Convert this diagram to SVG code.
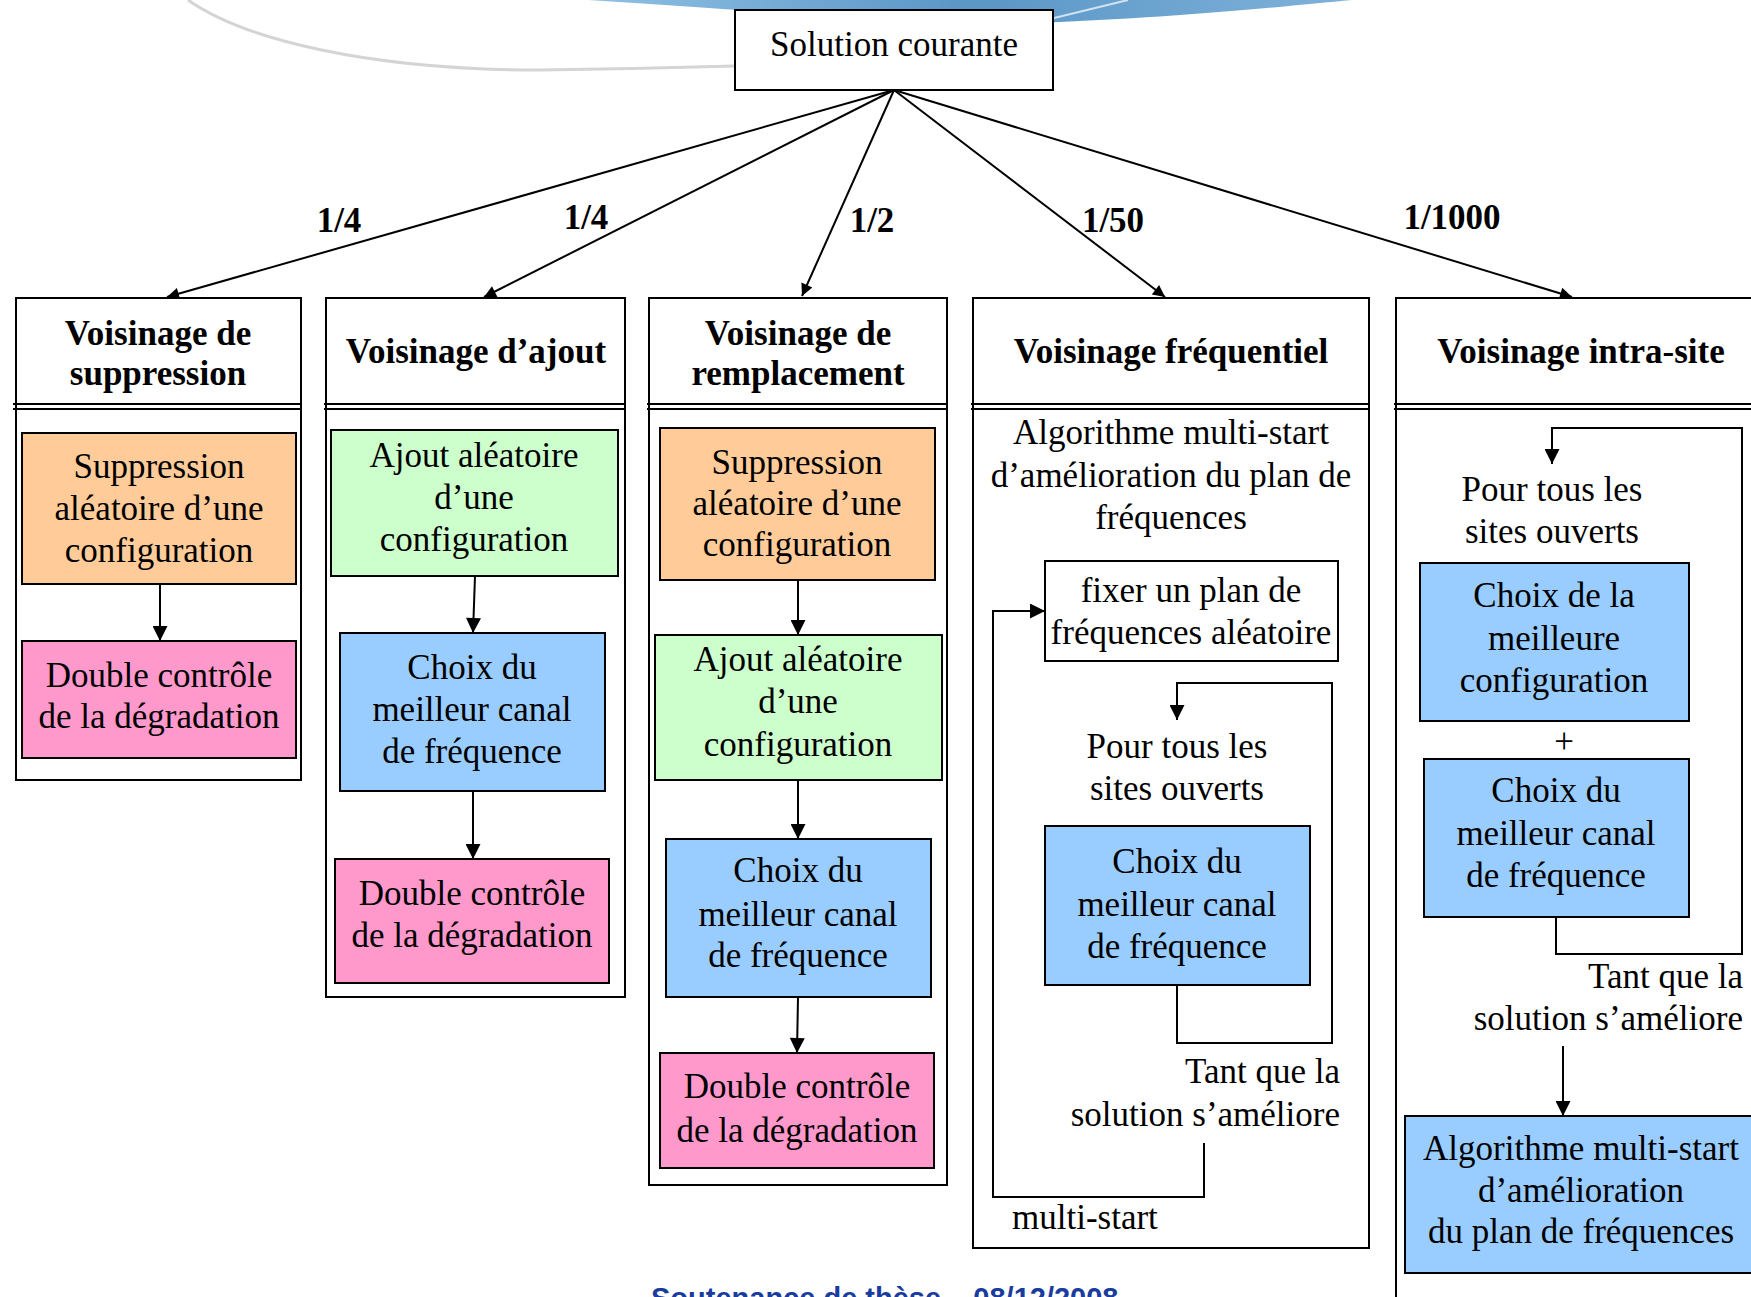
<svg xmlns="http://www.w3.org/2000/svg" width="1751" height="1297" viewBox="0 0 1751 1297">
<style>
.bg{fill:#fff}
.box{fill:#fff;stroke:#000;stroke-width:2}
.or{fill:#FFCC99;stroke:#000;stroke-width:2}
.gr{fill:#CCFFCC;stroke:#000;stroke-width:2}
.bl{fill:#99CCFF;stroke:#000;stroke-width:2}
.pk{fill:#FF99CC;stroke:#000;stroke-width:2}
.t{font-family:"Liberation Serif","Times New Roman",serif;font-size:35px;fill:#000;text-anchor:middle}
.h{font-weight:bold}
.r{text-anchor:end}
.s{text-anchor:start}
.ln{stroke:#000;stroke-width:2;fill:none}
.dv{stroke:#000;stroke-width:2}
</style>
<defs>
<marker id="ah" viewBox="0 0 10 10" refX="10" refY="5" markerWidth="16" markerHeight="15" markerUnits="userSpaceOnUse" orient="auto"><path d="M0,0 L10,5 L0,10 z" fill="#000"/></marker>
<marker id="ah2" viewBox="0 0 10 10" refX="10" refY="5" markerWidth="20" markerHeight="12" markerUnits="userSpaceOnUse" orient="auto"><path d="M0,0 L10,5 L0,10 z" fill="#000"/></marker>
<linearGradient id="sw" x1="0" y1="0" x2="1" y2="0">
<stop offset="0" stop-color="#8fc0e4"/>
<stop offset="0.5" stop-color="#5a96c6"/>
<stop offset="1" stop-color="#7fb2da"/>
</linearGradient>
</defs>
<rect class="bg" x="0" y="0" width="1751" height="1297"/>
<g id="decor">
<path d="M588,0 C800,14 960,26 1060,22 C1180,17 1290,6 1352,0 Z" fill="url(#sw)"/>
<path d="M1050,19 L1128,0" stroke="#cfe3f2" stroke-width="2"/>
<path d="M188,0 C245,40 370,70 540,70 C620,69 700,67 735,66" fill="none" stroke="#d4d4d4" stroke-width="3"/>
<text x="651" y="1308" font-family="Liberation Sans, Arial, sans-serif" font-size="29" font-weight="bold" fill="#1a3c9c">Soutenance de thèse – 08/12/2008</text>
</g>
<g id="connectors">
<line class="ln" x1="894" y1="90" x2="167" y2="297" marker-end="url(#ah2)"/>
<line class="ln" x1="894" y1="90" x2="484" y2="297" marker-end="url(#ah2)"/>
<line class="ln" x1="894" y1="90" x2="802" y2="296" marker-end="url(#ah2)" stroke-width="1.5"/>
<line class="ln" x1="894" y1="90" x2="1165" y2="297" marker-end="url(#ah2)" stroke-width="1.5"/>
<line class="ln" x1="894" y1="90" x2="1572" y2="297" marker-end="url(#ah2)"/>
<text class="t h" x="339" y="232">1/4</text>
<text class="t h" x="586" y="229">1/4</text>
<text class="t h" x="872" y="232">1/2</text>
<text class="t h" x="1113" y="232">1/50</text>
<text class="t h" x="1452" y="229">1/1000</text>
</g>
<g id="solution">
<rect class="box" x="735" y="10" width="318" height="80"/>
<text class="t" x="894" y="56">Solution courante</text>
</g>
<g id="col-suppression">
<rect class="box" x="16" y="298" width="285" height="482"/>
<line class="dv" x1="13" y1="404" x2="301" y2="404"/>
<line class="dv" x1="13" y1="409" x2="301" y2="409"/>
<text class="t h" x="158" y="345">Voisinage de</text>
<text class="t h" x="158" y="385">suppression</text>
<g id="sup-1"><rect class="or" x="22" y="433" width="274" height="151"/>
<text class="t" x="159" y="478">Suppression</text><text class="t" x="159" y="520">aléatoire d’une</text><text class="t" x="159" y="562">configuration</text></g>
<g id="sup-2"><rect class="pk" x="22" y="641" width="274" height="117"/>
<text class="t" x="159" y="687">Double contrôle</text><text class="t" x="159" y="728">de la dégradation</text></g>
<line class="ln" x1="160" y1="584" x2="160" y2="641" marker-end="url(#ah)"/>
</g>
<g id="col-ajout">
<rect class="box" x="326" y="298" width="299" height="699"/>
<line class="dv" x1="324" y1="404" x2="625" y2="404"/>
<line class="dv" x1="324" y1="409" x2="625" y2="409"/>
<text class="t h" x="476" y="363">Voisinage d’ajout</text>
<g id="aj-1"><rect class="gr" x="331" y="430" width="287" height="146"/>
<text class="t" x="474" y="467">Ajout aléatoire</text><text class="t" x="474" y="509">d’une</text><text class="t" x="474" y="551">configuration</text></g>
<g id="aj-2"><rect class="bl" x="340" y="633" width="265" height="158"/>
<text class="t" x="472" y="679">Choix du</text><text class="t" x="472" y="721">meilleur canal</text><text class="t" x="472" y="763">de fréquence</text></g>
<g id="aj-3"><rect class="pk" x="335" y="859" width="274" height="124"/>
<text class="t" x="472" y="905">Double contrôle</text><text class="t" x="472" y="947">de la dégradation</text></g>
<line class="ln" x1="475" y1="576" x2="473" y2="633" marker-end="url(#ah)"/>
<line class="ln" x1="473" y1="791" x2="473" y2="859" marker-end="url(#ah)"/>
</g>
<g id="col-remplacement">
<rect class="box" x="649" y="298" width="298" height="887"/>
<line class="dv" x1="647" y1="404" x2="947" y2="404"/>
<line class="dv" x1="647" y1="409" x2="947" y2="409"/>
<text class="t h" x="798" y="345">Voisinage de</text>
<text class="t h" x="798" y="385">remplacement</text>
<g id="rem-1"><rect class="or" x="660" y="428" width="275" height="152"/>
<text class="t" x="797" y="474">Suppression</text><text class="t" x="797" y="515">aléatoire d’une</text><text class="t" x="797" y="556">configuration</text></g>
<g id="rem-2"><rect class="gr" x="655" y="635" width="287" height="145"/>
<text class="t" x="798" y="671">Ajout aléatoire</text><text class="t" x="798" y="713">d’une</text><text class="t" x="798" y="756">configuration</text></g>
<g id="rem-3"><rect class="bl" x="666" y="839" width="265" height="158"/>
<text class="t" x="798" y="882">Choix du</text><text class="t" x="798" y="926">meilleur canal</text><text class="t" x="798" y="967">de fréquence</text></g>
<g id="rem-4"><rect class="pk" x="660" y="1053" width="274" height="115"/>
<text class="t" x="797" y="1098">Double contrôle</text><text class="t" x="797" y="1142">de la dégradation</text></g>
<line class="ln" x1="798" y1="580" x2="798" y2="635" marker-end="url(#ah)"/>
<line class="ln" x1="798" y1="780" x2="798" y2="839" marker-end="url(#ah)"/>
<line class="ln" x1="798" y1="997" x2="797" y2="1053" marker-end="url(#ah)"/>
</g>
<g id="col-frequentiel">
<rect class="box" x="973" y="298" width="396" height="950"/>
<line class="dv" x1="971" y1="404" x2="1369" y2="404"/>
<line class="dv" x1="971" y1="409" x2="1369" y2="409"/>
<text class="t h" x="1171" y="363">Voisinage fréquentiel</text>
<text class="t" x="1171" y="444">Algorithme multi-start</text>
<text class="t" x="1171" y="487">d’amélioration du plan de</text>
<text class="t" x="1171" y="529">fréquences</text>
<g id="freq-fix"><rect class="box" x="1045" y="561" width="293" height="100"/>
<text class="t" x="1191" y="602">fixer un plan de</text><text class="t" x="1191" y="644">fréquences aléatoire</text></g>
<text class="t" x="1177" y="758">Pour tous les</text>
<text class="t" x="1177" y="800">sites ouverts</text>
<g id="freq-choix"><rect class="bl" x="1045" y="826" width="265" height="159"/>
<text class="t" x="1177" y="873">Choix du</text><text class="t" x="1177" y="916">meilleur canal</text><text class="t" x="1177" y="958">de fréquence</text></g>
<text class="t r" x="1340" y="1083">Tant que la</text>
<text class="t r" x="1340" y="1126">solution s’améliore</text>
<text class="t s" x="1012" y="1229">multi-start</text>
<path class="ln" d="M1204,1143 V1197 H993 V611 H1045" marker-end="url(#ah)"/>
<path class="ln" d="M1177,985 V1043 H1332 V683 H1177 V720" marker-end="url(#ah)"/>
</g>
<g id="col-intrasite">
<rect class="box" x="1396" y="298" width="420" height="1060"/>
<line class="dv" x1="1394" y1="404" x2="1751" y2="404"/>
<line class="dv" x1="1394" y1="409" x2="1751" y2="409"/>
<text class="t h" x="1581" y="363">Voisinage intra-site</text>
<text class="t" x="1552" y="501">Pour tous les</text>
<text class="t" x="1552" y="543">sites ouverts</text>
<g id="intra-1"><rect class="bl" x="1420" y="563" width="269" height="158"/>
<text class="t" x="1554" y="607">Choix de la</text><text class="t" x="1554" y="650">meilleure</text><text class="t" x="1554" y="692">configuration</text></g>
<text class="t" x="1564" y="753">+</text>
<g id="intra-2"><rect class="bl" x="1424" y="759" width="265" height="158"/>
<text class="t" x="1556" y="802">Choix du</text><text class="t" x="1556" y="845">meilleur canal</text><text class="t" x="1556" y="887">de fréquence</text></g>
<text class="t r" x="1743" y="988">Tant que la</text>
<text class="t r" x="1743" y="1030">solution s’améliore</text>
<g id="intra-3"><rect class="bl" x="1405" y="1116" width="420" height="157"/>
<text class="t" x="1581" y="1160">Algorithme multi-start</text><text class="t" x="1581" y="1202">d’amélioration</text><text class="t" x="1581" y="1243">du plan de fréquences</text></g>
<path class="ln" d="M1556,917 V954 H1742 V428 H1552 V464" marker-end="url(#ah)"/>
<line class="ln" x1="1563" y1="1046" x2="1563" y2="1116" marker-end="url(#ah)"/>
</g>
</svg>
